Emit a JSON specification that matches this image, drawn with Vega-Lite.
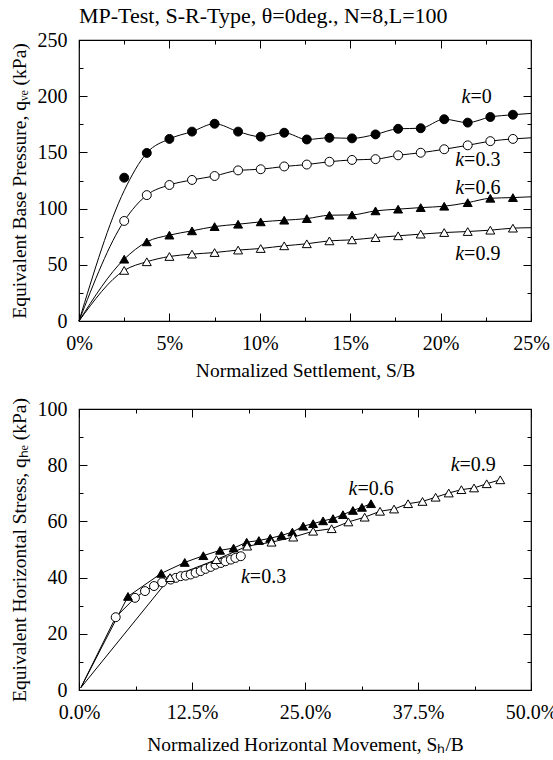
{
  "$schema": "https://vega.github.io/schema/vega-lite/v6.json",
  "padding": {"left": 8, "top": 4, "right": 0, "bottom": 0},
  "background": "white",
  "config": {
    "font": "Liberation Serif",
    "axis": {"labelFont": "Liberation Serif", "titleFont": "Liberation Serif", "labelColor": "black", "titleColor": "black", "domainColor": "black", "tickColor": "black", "tickOpacity": 1, "domainOpacity": 1, "titleFontWeight": "normal", "labelFontSize": 20, "titleFontSize": 19.5, "grid": false, "tickWidth": 1, "domainWidth": 1.2}
  },
  "datasets": {
    "topPts": [
      {"k": "0", "x": 2.5, "q": 127.5}, {"k": "0", "x": 3.75, "q": 149.5}, {"k": "0", "x": 5.0, "q": 162}, {"k": "0", "x": 6.25, "q": 168.5}, {"k": "0", "x": 7.5, "q": 175.5}, {"k": "0", "x": 8.8, "q": 168.5}, {"k": "0", "x": 10.05, "q": 164}, {"k": "0", "x": 11.35, "q": 167.5}, {"k": "0", "x": 12.6, "q": 161.5}, {"k": "0", "x": 13.85, "q": 163}, {"k": "0", "x": 15.1, "q": 162.5}, {"k": "0", "x": 16.4, "q": 166}, {"k": "0", "x": 17.65, "q": 171}, {"k": "0", "x": 18.9, "q": 171.5}, {"k": "0", "x": 20.2, "q": 179.5}, {"k": "0", "x": 21.5, "q": 176.5}, {"k": "0", "x": 22.75, "q": 181.5}, {"k": "0", "x": 24.0, "q": 183.5},
      {"k": "0.3", "x": 2.5, "q": 89}, {"k": "0.3", "x": 3.75, "q": 112}, {"k": "0.3", "x": 5.0, "q": 121}, {"k": "0.3", "x": 6.25, "q": 125.5}, {"k": "0.3", "x": 7.5, "q": 129}, {"k": "0.3", "x": 8.8, "q": 134}, {"k": "0.3", "x": 10.05, "q": 135}, {"k": "0.3", "x": 11.35, "q": 137.5}, {"k": "0.3", "x": 12.6, "q": 139.2}, {"k": "0.3", "x": 13.85, "q": 141.7}, {"k": "0.3", "x": 15.1, "q": 143.3}, {"k": "0.3", "x": 16.4, "q": 144}, {"k": "0.3", "x": 17.65, "q": 147.4}, {"k": "0.3", "x": 18.9, "q": 149.7}, {"k": "0.3", "x": 20.2, "q": 152.8}, {"k": "0.3", "x": 21.5, "q": 156.3}, {"k": "0.3", "x": 22.75, "q": 160}, {"k": "0.3", "x": 24.0, "q": 162},
      {"k": "0.6", "x": 2.5, "q": 55}, {"k": "0.6", "x": 3.75, "q": 70.4}, {"k": "0.6", "x": 5.0, "q": 76.4}, {"k": "0.6", "x": 6.25, "q": 80.2}, {"k": "0.6", "x": 7.5, "q": 84}, {"k": "0.6", "x": 8.8, "q": 86.1}, {"k": "0.6", "x": 10.05, "q": 88.2}, {"k": "0.6", "x": 11.35, "q": 89.7}, {"k": "0.6", "x": 12.6, "q": 91.1}, {"k": "0.6", "x": 13.85, "q": 94.1}, {"k": "0.6", "x": 15.1, "q": 94.4}, {"k": "0.6", "x": 16.4, "q": 98}, {"k": "0.6", "x": 17.65, "q": 99.5}, {"k": "0.6", "x": 18.9, "q": 100.9}, {"k": "0.6", "x": 20.2, "q": 102.1}, {"k": "0.6", "x": 21.5, "q": 105.3}, {"k": "0.6", "x": 22.75, "q": 109.2}, {"k": "0.6", "x": 24.0, "q": 109.8},
      {"k": "0.9", "x": 2.5, "q": 45}, {"k": "0.9", "x": 3.75, "q": 52.7}, {"k": "0.9", "x": 5.0, "q": 57.4}, {"k": "0.9", "x": 6.25, "q": 59.5}, {"k": "0.9", "x": 7.5, "q": 60.9}, {"k": "0.9", "x": 8.8, "q": 63.1}, {"k": "0.9", "x": 10.05, "q": 64.5}, {"k": "0.9", "x": 11.35, "q": 66.9}, {"k": "0.9", "x": 12.6, "q": 68.7}, {"k": "0.9", "x": 13.85, "q": 71.3}, {"k": "0.9", "x": 15.1, "q": 72.2}, {"k": "0.9", "x": 16.4, "q": 74.2}, {"k": "0.9", "x": 17.65, "q": 75.8}, {"k": "0.9", "x": 18.9, "q": 77.3}, {"k": "0.9", "x": 20.2, "q": 78.7}, {"k": "0.9", "x": 21.5, "q": 79.6}, {"k": "0.9", "x": 22.75, "q": 80.8}, {"k": "0.9", "x": 24.0, "q": 82.6}
    ],
    "topLines": [
      {"k": "0", "x": 0, "q": 0}, {"k": "0", "x": 2.5, "q": 116}, {"k": "0", "x": 3.75, "q": 149.5}, {"k": "0", "x": 5.0, "q": 162}, {"k": "0", "x": 6.25, "q": 168.5}, {"k": "0", "x": 7.5, "q": 175.5}, {"k": "0", "x": 8.8, "q": 168.5}, {"k": "0", "x": 10.05, "q": 164}, {"k": "0", "x": 11.35, "q": 167.5}, {"k": "0", "x": 12.6, "q": 161.5}, {"k": "0", "x": 13.85, "q": 163}, {"k": "0", "x": 15.1, "q": 162.5}, {"k": "0", "x": 16.4, "q": 166}, {"k": "0", "x": 17.65, "q": 171}, {"k": "0", "x": 18.9, "q": 171.5}, {"k": "0", "x": 20.2, "q": 179.5}, {"k": "0", "x": 21.5, "q": 176.5}, {"k": "0", "x": 22.75, "q": 181.5}, {"k": "0", "x": 24.0, "q": 183.5}, {"k": "0", "x": 25, "q": 184.7},
      {"k": "0.3", "x": 0, "q": 0}, {"k": "0.3", "x": 2.5, "q": 89}, {"k": "0.3", "x": 3.75, "q": 112}, {"k": "0.3", "x": 5.0, "q": 121}, {"k": "0.3", "x": 6.25, "q": 125.5}, {"k": "0.3", "x": 7.5, "q": 129}, {"k": "0.3", "x": 8.8, "q": 134}, {"k": "0.3", "x": 10.05, "q": 135}, {"k": "0.3", "x": 11.35, "q": 137.5}, {"k": "0.3", "x": 12.6, "q": 139.2}, {"k": "0.3", "x": 13.85, "q": 141.7}, {"k": "0.3", "x": 15.1, "q": 143.3}, {"k": "0.3", "x": 16.4, "q": 144}, {"k": "0.3", "x": 17.65, "q": 147.4}, {"k": "0.3", "x": 18.9, "q": 149.7}, {"k": "0.3", "x": 20.2, "q": 152.8}, {"k": "0.3", "x": 21.5, "q": 156.3}, {"k": "0.3", "x": 22.75, "q": 160}, {"k": "0.3", "x": 24.0, "q": 162}, {"k": "0.3", "x": 25, "q": 163},
      {"k": "0.6", "x": 0, "q": 0}, {"k": "0.6", "x": 2.5, "q": 55}, {"k": "0.6", "x": 3.75, "q": 70.4}, {"k": "0.6", "x": 5.0, "q": 76.4}, {"k": "0.6", "x": 6.25, "q": 80.2}, {"k": "0.6", "x": 7.5, "q": 84}, {"k": "0.6", "x": 8.8, "q": 86.1}, {"k": "0.6", "x": 10.05, "q": 88.2}, {"k": "0.6", "x": 11.35, "q": 89.7}, {"k": "0.6", "x": 12.6, "q": 91.1}, {"k": "0.6", "x": 13.85, "q": 94.1}, {"k": "0.6", "x": 15.1, "q": 94.4}, {"k": "0.6", "x": 16.4, "q": 98}, {"k": "0.6", "x": 17.65, "q": 99.5}, {"k": "0.6", "x": 18.9, "q": 100.9}, {"k": "0.6", "x": 20.2, "q": 102.1}, {"k": "0.6", "x": 21.5, "q": 105.3}, {"k": "0.6", "x": 22.75, "q": 109.2}, {"k": "0.6", "x": 24.0, "q": 109.8}, {"k": "0.6", "x": 25, "q": 110.5},
      {"k": "0.9", "x": 0, "q": 0}, {"k": "0.9", "x": 2.5, "q": 45}, {"k": "0.9", "x": 3.75, "q": 52.7}, {"k": "0.9", "x": 5.0, "q": 57.4}, {"k": "0.9", "x": 6.25, "q": 59.5}, {"k": "0.9", "x": 7.5, "q": 60.9}, {"k": "0.9", "x": 8.8, "q": 63.1}, {"k": "0.9", "x": 10.05, "q": 64.5}, {"k": "0.9", "x": 11.35, "q": 66.9}, {"k": "0.9", "x": 12.6, "q": 68.7}, {"k": "0.9", "x": 13.85, "q": 71.3}, {"k": "0.9", "x": 15.1, "q": 72.2}, {"k": "0.9", "x": 16.4, "q": 74.2}, {"k": "0.9", "x": 17.65, "q": 75.8}, {"k": "0.9", "x": 18.9, "q": 77.3}, {"k": "0.9", "x": 20.2, "q": 78.7}, {"k": "0.9", "x": 21.5, "q": 79.6}, {"k": "0.9", "x": 22.75, "q": 80.8}, {"k": "0.9", "x": 24.0, "q": 82.6}, {"k": "0.9", "x": 25, "q": 83}
    ],
    "topLbl": [
      {"t": "=0", "x": 21.65, "q": 199},
      {"t": "=0.3", "x": 21.3, "q": 143.3},
      {"t": "=0.6", "x": 21.3, "q": 118},
      {"t": "=0.9", "x": 21.3, "q": 59.8}
    ],
    "botPts": [
      {"k": "0.3", "x": 4.06, "q": 25.9}, {"k": "0.3", "x": 6.19, "q": 32.8}, {"k": "0.3", "x": 7.3, "q": 35.2}, {"k": "0.3", "x": 8.3, "q": 37.0}, {"k": "0.3", "x": 9.2, "q": 38.3}, {"k": "0.3", "x": 10.14, "q": 39.3}, {"k": "0.3", "x": 10.7, "q": 39.9}, {"k": "0.3", "x": 11.25, "q": 40.5}, {"k": "0.3", "x": 11.8, "q": 40.7}, {"k": "0.3", "x": 12.35, "q": 41.1}, {"k": "0.3", "x": 12.9, "q": 41.7}, {"k": "0.3", "x": 13.46, "q": 42.3}, {"k": "0.3", "x": 14.0, "q": 43.1}, {"k": "0.3", "x": 14.57, "q": 43.8}, {"k": "0.3", "x": 15.1, "q": 44.6}, {"k": "0.3", "x": 15.7, "q": 45.2}, {"k": "0.3", "x": 16.2, "q": 45.8}, {"k": "0.3", "x": 16.8, "q": 46.4}, {"k": "0.3", "x": 17.3, "q": 47.0}, {"k": "0.3", "x": 17.9, "q": 47.6},
      {"k": "0.6", "x": 5.42, "q": 33.3}, {"k": "0.6", "x": 9.1, "q": 41.5}, {"k": "0.6", "x": 11.7, "q": 45.4}, {"k": "0.6", "x": 13.75, "q": 47.8}, {"k": "0.6", "x": 15.6, "q": 49.7}, {"k": "0.6", "x": 17.1, "q": 50.5}, {"k": "0.6", "x": 18.55, "q": 52.6}, {"k": "0.6", "x": 19.9, "q": 53.2}, {"k": "0.6", "x": 21.15, "q": 54.0}, {"k": "0.6", "x": 22.4, "q": 55.0}, {"k": "0.6", "x": 23.6, "q": 56.2}, {"k": "0.6", "x": 24.8, "q": 58.3}, {"k": "0.6", "x": 25.9, "q": 59.2}, {"k": "0.6", "x": 27.0, "q": 60.2}, {"k": "0.6", "x": 28.1, "q": 61.0}, {"k": "0.6", "x": 29.2, "q": 62.4}, {"k": "0.6", "x": 30.3, "q": 63.9}, {"k": "0.6", "x": 31.3, "q": 65.0}, {"k": "0.6", "x": 32.3, "q": 66.3},
      {"k": "0.9", "x": 10.07, "q": 40.0}, {"k": "0.9", "x": 15.2, "q": 46.4}, {"k": "0.9", "x": 18.6, "q": 51.2}, {"k": "0.9", "x": 21.3, "q": 52.6}, {"k": "0.9", "x": 23.7, "q": 54.4}, {"k": "0.9", "x": 25.9, "q": 56.5}, {"k": "0.9", "x": 27.95, "q": 57.4}, {"k": "0.9", "x": 29.8, "q": 59.8}, {"k": "0.9", "x": 31.6, "q": 61.5}, {"k": "0.9", "x": 33.3, "q": 63.6}, {"k": "0.9", "x": 34.85, "q": 64.4}, {"k": "0.9", "x": 36.4, "q": 66.3}, {"k": "0.9", "x": 38.0, "q": 67.1}, {"k": "0.9", "x": 39.45, "q": 68.6}, {"k": "0.9", "x": 40.9, "q": 70.1}, {"k": "0.9", "x": 42.3, "q": 71.3}, {"k": "0.9", "x": 43.7, "q": 71.9}, {"k": "0.9", "x": 45.1, "q": 73.4}, {"k": "0.9", "x": 46.6, "q": 74.8}
    ],
    "botLines": [
      {"k": "0.3", "x": 0.2, "q": 0.8}, {"k": "0.3", "x": 4.06, "q": 25.9}, {"k": "0.3", "x": 6.19, "q": 32.8}, {"k": "0.3", "x": 7.3, "q": 35.2}, {"k": "0.3", "x": 8.3, "q": 37.0}, {"k": "0.3", "x": 9.2, "q": 38.3}, {"k": "0.3", "x": 10.14, "q": 39.3}, {"k": "0.3", "x": 10.7, "q": 39.9}, {"k": "0.3", "x": 11.25, "q": 40.5}, {"k": "0.3", "x": 11.8, "q": 40.7}, {"k": "0.3", "x": 12.35, "q": 41.1}, {"k": "0.3", "x": 12.9, "q": 41.7}, {"k": "0.3", "x": 13.46, "q": 42.3}, {"k": "0.3", "x": 14.0, "q": 43.1}, {"k": "0.3", "x": 14.57, "q": 43.8}, {"k": "0.3", "x": 15.1, "q": 44.6}, {"k": "0.3", "x": 15.7, "q": 45.2}, {"k": "0.3", "x": 16.2, "q": 45.8}, {"k": "0.3", "x": 16.8, "q": 46.4}, {"k": "0.3", "x": 17.3, "q": 47.0}, {"k": "0.3", "x": 17.9, "q": 47.6},
      {"k": "0.6", "x": 0.2, "q": 0.8}, {"k": "0.6", "x": 5.42, "q": 33.3}, {"k": "0.6", "x": 9.1, "q": 41.5}, {"k": "0.6", "x": 11.7, "q": 45.4}, {"k": "0.6", "x": 13.75, "q": 47.8}, {"k": "0.6", "x": 15.6, "q": 49.7}, {"k": "0.6", "x": 17.1, "q": 50.5}, {"k": "0.6", "x": 18.55, "q": 52.6}, {"k": "0.6", "x": 19.9, "q": 53.2}, {"k": "0.6", "x": 21.15, "q": 54.0}, {"k": "0.6", "x": 22.4, "q": 55.0}, {"k": "0.6", "x": 23.6, "q": 56.2}, {"k": "0.6", "x": 24.8, "q": 58.3}, {"k": "0.6", "x": 25.9, "q": 59.2}, {"k": "0.6", "x": 27.0, "q": 60.2}, {"k": "0.6", "x": 28.1, "q": 61.0}, {"k": "0.6", "x": 29.2, "q": 62.4}, {"k": "0.6", "x": 30.3, "q": 63.9}, {"k": "0.6", "x": 31.3, "q": 65.0}, {"k": "0.6", "x": 32.3, "q": 66.3},
      {"k": "0.9", "x": 0.2, "q": 0.8}, {"k": "0.9", "x": 10.07, "q": 40.0}, {"k": "0.9", "x": 15.2, "q": 46.4}, {"k": "0.9", "x": 18.6, "q": 51.2}, {"k": "0.9", "x": 21.3, "q": 52.6}, {"k": "0.9", "x": 23.7, "q": 54.4}, {"k": "0.9", "x": 25.9, "q": 56.5}, {"k": "0.9", "x": 27.95, "q": 57.4}, {"k": "0.9", "x": 29.8, "q": 59.8}, {"k": "0.9", "x": 31.6, "q": 61.5}, {"k": "0.9", "x": 33.3, "q": 63.6}, {"k": "0.9", "x": 34.85, "q": 64.4}, {"k": "0.9", "x": 36.4, "q": 66.3}, {"k": "0.9", "x": 38.0, "q": 67.1}, {"k": "0.9", "x": 39.45, "q": 68.6}, {"k": "0.9", "x": 40.9, "q": 70.1}, {"k": "0.9", "x": 42.3, "q": 71.3}, {"k": "0.9", "x": 43.7, "q": 71.9}, {"k": "0.9", "x": 45.1, "q": 73.4}, {"k": "0.9", "x": 46.6, "q": 74.8}
    ],
    "botLbl": [
      {"t": "=0.3", "x": 18.9, "q": 40.1},
      {"t": "=0.6", "x": 30.8, "q": 71.6},
      {"t": "=0.9", "x": 42.1, "q": 79.9}
    ]
  },
  "vconcat": [
    {
      "title": {"text": "MP-Test, S-R-Type, θ=0deg., N=8,L=100", "anchor": "start", "frame": "group", "font": "Liberation Serif", "fontSize": 22, "fontWeight": "normal", "color": "black", "offset": 2},
      "width": 452,
      "height": 281,
      "view": {"stroke": "black", "strokeWidth": 1.2},
      "layer": [
        {
          "data": {"name": "topLines"},
          "mark": {"type": "line", "color": "black", "strokeWidth": 1, "interpolate": "monotone"},
          "encoding": {
            "x": {"field": "x", "type": "quantitative", "scale": {"domain": [0, 25], "nice": false}, "axis": null},
            "y": {"field": "q", "type": "quantitative", "scale": {"domain": [0, 250], "nice": false}, "axis": null},
            "detail": {"field": "k"}
          }
        },
        {
          "data": {"name": "topPts"},
          "mark": {"type": "point", "filled": true, "size": 80, "stroke": "black", "strokeWidth": 1, "opacity": 1},
          "encoding": {
            "x": {"field": "x", "type": "quantitative", "scale": {"domain": [0, 25], "nice": false}, "axis": {"orient": "bottom", "values": [0, 5, 10, 15, 20, 25], "ticks": false, "domain": false, "labelPadding": 12, "labelFlush": false, "labelExpr": "datum.value + '%'", "title": "Normalized Settlement, S/B", "titlePadding": 8}},
            "y": {"field": "q", "type": "quantitative", "scale": {"domain": [0, 250], "nice": false}, "axis": {"orient": "left", "values": [0, 50, 100, 150, 200, 250], "ticks": false, "domain": false, "labelPadding": 12, "labelFlush": false, "title": "Equivalent Base Pressure, qᵥₑ (kPa)", "titlePadding": 8}},
            "shape": {"field": "k", "type": "nominal", "scale": {"domain": ["0", "0.3", "0.6", "0.9"], "range": ["circle", "circle", "triangle-up", "triangle-up"]}, "legend": null},
            "fill": {"field": "k", "type": "nominal", "scale": {"domain": ["0", "0.3", "0.6", "0.9"], "range": ["black", "white", "black", "white"]}, "legend": null}
          }
        },
        {
          "data": {"name": "topLines"},
          "mark": {"type": "line", "opacity": 0},
          "encoding": {
            "x": {"field": "x", "type": "quantitative", "scale": {"domain": [0, 25], "nice": false}, "axis": {"orient": "bottom", "values": [0, 5, 10, 15, 20, 25], "labels": false, "domain": false, "ticks": true, "tickSize": 8, "offset": -8, "tickColor": "black", "tickOpacity": 1, "tickWidth": 1, "title": null}},
            "y": {"field": "q", "type": "quantitative", "scale": {"domain": [0, 250], "nice": false}, "axis": {"orient": "left", "values": [0, 50, 100, 150, 200, 250], "labels": false, "domain": false, "ticks": true, "tickSize": 8, "offset": -8, "tickColor": "black", "tickOpacity": 1, "tickWidth": 1, "title": null}},
            "detail": {"field": "k"}
          }
        },
        {
          "data": {"name": "topLines"},
          "mark": {"type": "line", "opacity": 0},
          "encoding": {
            "x": {"field": "x", "type": "quantitative", "scale": {"domain": [0, 25], "nice": false}, "axis": {"orient": "bottom", "values": [2.5, 7.5, 12.5, 17.5, 22.5], "labels": false, "domain": false, "ticks": true, "tickSize": 4, "offset": -4, "tickColor": "black", "tickOpacity": 1, "tickWidth": 1, "title": null}},
            "y": {"field": "q", "type": "quantitative", "scale": {"domain": [0, 250], "nice": false}, "axis": {"orient": "left", "values": [25, 75, 125, 175, 225], "labels": false, "domain": false, "ticks": true, "tickSize": 4, "offset": -4, "tickColor": "black", "tickOpacity": 1, "tickWidth": 1, "title": null}},
            "detail": {"field": "k"}
          }
        },
        {
          "data": {"name": "topLines"},
          "mark": {"type": "line", "opacity": 0},
          "encoding": {
            "x": {"field": "x", "type": "quantitative", "scale": {"domain": [0, 25], "nice": false}, "axis": {"orient": "top", "values": [0, 5, 10, 15, 20, 25], "labels": false, "domain": false, "ticks": true, "tickSize": 8, "offset": -8, "tickColor": "black", "tickOpacity": 1, "tickWidth": 1, "title": null}},
            "y": {"field": "q", "type": "quantitative", "scale": {"domain": [0, 250], "nice": false}, "axis": {"orient": "right", "values": [0, 50, 100, 150, 200, 250], "labels": false, "domain": false, "ticks": true, "tickSize": 8, "offset": -8, "tickColor": "black", "tickOpacity": 1, "tickWidth": 1, "title": null}},
            "detail": {"field": "k"}
          }
        },
        {
          "data": {"name": "topLines"},
          "mark": {"type": "line", "opacity": 0},
          "encoding": {
            "x": {"field": "x", "type": "quantitative", "scale": {"domain": [0, 25], "nice": false}, "axis": {"orient": "top", "values": [2.5, 7.5, 12.5, 17.5, 22.5], "labels": false, "domain": false, "ticks": true, "tickSize": 4, "offset": -4, "tickColor": "black", "tickOpacity": 1, "tickWidth": 1, "title": null}},
            "y": {"field": "q", "type": "quantitative", "scale": {"domain": [0, 250], "nice": false}, "axis": {"orient": "right", "values": [25, 75, 125, 175, 225], "labels": false, "domain": false, "ticks": true, "tickSize": 4, "offset": -4, "tickColor": "black", "tickOpacity": 1, "tickWidth": 1, "title": null}},
            "detail": {"field": "k"}
          }
        },
        {
          "data": {"name": "topLbl"},
          "mark": {"type": "text", "font": "Liberation Serif", "fontSize": 20, "fontStyle": "italic", "align": "right", "baseline": "middle", "color": "black"},
          "encoding": {
            "x": {"field": "x", "type": "quantitative", "scale": {"domain": [0, 25], "nice": false}, "axis": null},
            "y": {"field": "q", "type": "quantitative", "scale": {"domain": [0, 250], "nice": false}, "axis": null},
            "text": {"value": "k"}
          }
        },
        {
          "data": {"name": "topLbl"},
          "mark": {"type": "text", "font": "Liberation Serif", "fontSize": 20, "align": "left", "baseline": "middle", "color": "black"},
          "encoding": {
            "x": {"field": "x", "type": "quantitative", "scale": {"domain": [0, 25], "nice": false}, "axis": null},
            "y": {"field": "q", "type": "quantitative", "scale": {"domain": [0, 250], "nice": false}, "axis": null},
            "text": {"field": "t"}
          }
        }
      ],
      "resolve": {"scale": {"x": "independent", "y": "independent"}, "axis": {"x": "independent", "y": "independent"}}
    },
    {
      "width": 452,
      "height": 281,
      "view": {"stroke": "black", "strokeWidth": 1.2},
      "layer": [
        {
          "data": {"name": "botLines"},
          "mark": {"type": "line", "color": "black", "strokeWidth": 1},
          "encoding": {
            "x": {"field": "x", "type": "quantitative", "scale": {"domain": [0, 50], "nice": false}, "axis": null},
            "y": {"field": "q", "type": "quantitative", "scale": {"domain": [0, 100], "nice": false}, "axis": null},
            "detail": {"field": "k"}
          }
        },
        {
          "data": {"name": "botPts"},
          "mark": {"type": "point", "filled": true, "size": 80, "stroke": "black", "strokeWidth": 1, "opacity": 1},
          "encoding": {
            "x": {"field": "x", "type": "quantitative", "scale": {"domain": [0, 50], "nice": false}, "axis": {"orient": "bottom", "values": [0, 12.5, 25, 37.5, 50], "ticks": false, "domain": false, "labelPadding": 12, "labelFlush": false, "labelExpr": "format(datum.value, '.1f') + '%'", "title": "Normalized Horizontal Movement, Sₕ/B", "titlePadding": 13}},
            "y": {"field": "q", "type": "quantitative", "scale": {"domain": [0, 100], "nice": false}, "axis": {"orient": "left", "values": [0, 20, 40, 60, 80, 100], "ticks": false, "domain": false, "labelPadding": 12, "labelFlush": false, "title": "Equivalent Horizontal Stress, qₕₑ (kPa)", "titlePadding": 8}},
            "shape": {"field": "k", "type": "nominal", "scale": {"domain": ["0.3", "0.6", "0.9"], "range": ["circle", "triangle-up", "triangle-up"]}, "legend": null},
            "fill": {"field": "k", "type": "nominal", "scale": {"domain": ["0.3", "0.6", "0.9"], "range": ["white", "black", "white"]}, "legend": null}
          }
        },
        {
          "data": {"name": "botLines"},
          "mark": {"type": "line", "opacity": 0},
          "encoding": {
            "x": {"field": "x", "type": "quantitative", "scale": {"domain": [0, 50], "nice": false}, "axis": {"orient": "bottom", "values": [0, 12.5, 25, 37.5, 50], "labels": false, "domain": false, "ticks": true, "tickSize": 8, "offset": -8, "tickColor": "black", "tickOpacity": 1, "tickWidth": 1, "title": null}},
            "y": {"field": "q", "type": "quantitative", "scale": {"domain": [0, 100], "nice": false}, "axis": {"orient": "left", "values": [0, 20, 40, 60, 80, 100], "labels": false, "domain": false, "ticks": true, "tickSize": 8, "offset": -8, "tickColor": "black", "tickOpacity": 1, "tickWidth": 1, "title": null}},
            "detail": {"field": "k"}
          }
        },
        {
          "data": {"name": "botLines"},
          "mark": {"type": "line", "opacity": 0},
          "encoding": {
            "x": {"field": "x", "type": "quantitative", "scale": {"domain": [0, 50], "nice": false}, "axis": {"orient": "bottom", "values": [6.25, 18.75, 31.25, 43.75], "labels": false, "domain": false, "ticks": true, "tickSize": 4, "offset": -4, "tickColor": "black", "tickOpacity": 1, "tickWidth": 1, "title": null}},
            "y": {"field": "q", "type": "quantitative", "scale": {"domain": [0, 100], "nice": false}, "axis": {"orient": "left", "values": [10, 30, 50, 70, 90], "labels": false, "domain": false, "ticks": true, "tickSize": 4, "offset": -4, "tickColor": "black", "tickOpacity": 1, "tickWidth": 1, "title": null}},
            "detail": {"field": "k"}
          }
        },
        {
          "data": {"name": "botLines"},
          "mark": {"type": "line", "opacity": 0},
          "encoding": {
            "x": {"field": "x", "type": "quantitative", "scale": {"domain": [0, 50], "nice": false}, "axis": {"orient": "top", "values": [0, 12.5, 25, 37.5, 50], "labels": false, "domain": false, "ticks": true, "tickSize": 8, "offset": -8, "tickColor": "black", "tickOpacity": 1, "tickWidth": 1, "title": null}},
            "y": {"field": "q", "type": "quantitative", "scale": {"domain": [0, 100], "nice": false}, "axis": {"orient": "right", "values": [0, 20, 40, 60, 80, 100], "labels": false, "domain": false, "ticks": true, "tickSize": 8, "offset": -8, "tickColor": "black", "tickOpacity": 1, "tickWidth": 1, "title": null}},
            "detail": {"field": "k"}
          }
        },
        {
          "data": {"name": "botLines"},
          "mark": {"type": "line", "opacity": 0},
          "encoding": {
            "x": {"field": "x", "type": "quantitative", "scale": {"domain": [0, 50], "nice": false}, "axis": {"orient": "top", "values": [6.25, 18.75, 31.25, 43.75], "labels": false, "domain": false, "ticks": true, "tickSize": 4, "offset": -4, "tickColor": "black", "tickOpacity": 1, "tickWidth": 1, "title": null}},
            "y": {"field": "q", "type": "quantitative", "scale": {"domain": [0, 100], "nice": false}, "axis": {"orient": "right", "values": [10, 30, 50, 70, 90], "labels": false, "domain": false, "ticks": true, "tickSize": 4, "offset": -4, "tickColor": "black", "tickOpacity": 1, "tickWidth": 1, "title": null}},
            "detail": {"field": "k"}
          }
        },
        {
          "data": {"name": "botLbl"},
          "mark": {"type": "text", "font": "Liberation Serif", "fontSize": 20, "fontStyle": "italic", "align": "right", "baseline": "middle", "color": "black"},
          "encoding": {
            "x": {"field": "x", "type": "quantitative", "scale": {"domain": [0, 50], "nice": false}, "axis": null},
            "y": {"field": "q", "type": "quantitative", "scale": {"domain": [0, 100], "nice": false}, "axis": null},
            "text": {"value": "k"}
          }
        },
        {
          "data": {"name": "botLbl"},
          "mark": {"type": "text", "font": "Liberation Serif", "fontSize": 20, "align": "left", "baseline": "middle", "color": "black"},
          "encoding": {
            "x": {"field": "x", "type": "quantitative", "scale": {"domain": [0, 50], "nice": false}, "axis": null},
            "y": {"field": "q", "type": "quantitative", "scale": {"domain": [0, 100], "nice": false}, "axis": null},
            "text": {"field": "t"}
          }
        }
      ],
      "resolve": {"scale": {"x": "independent", "y": "independent"}, "axis": {"x": "independent", "y": "independent"}}
    }
  ],
  "spacing": 15,
  "resolve": {"scale": {"x": "independent", "y": "independent"}}
}
